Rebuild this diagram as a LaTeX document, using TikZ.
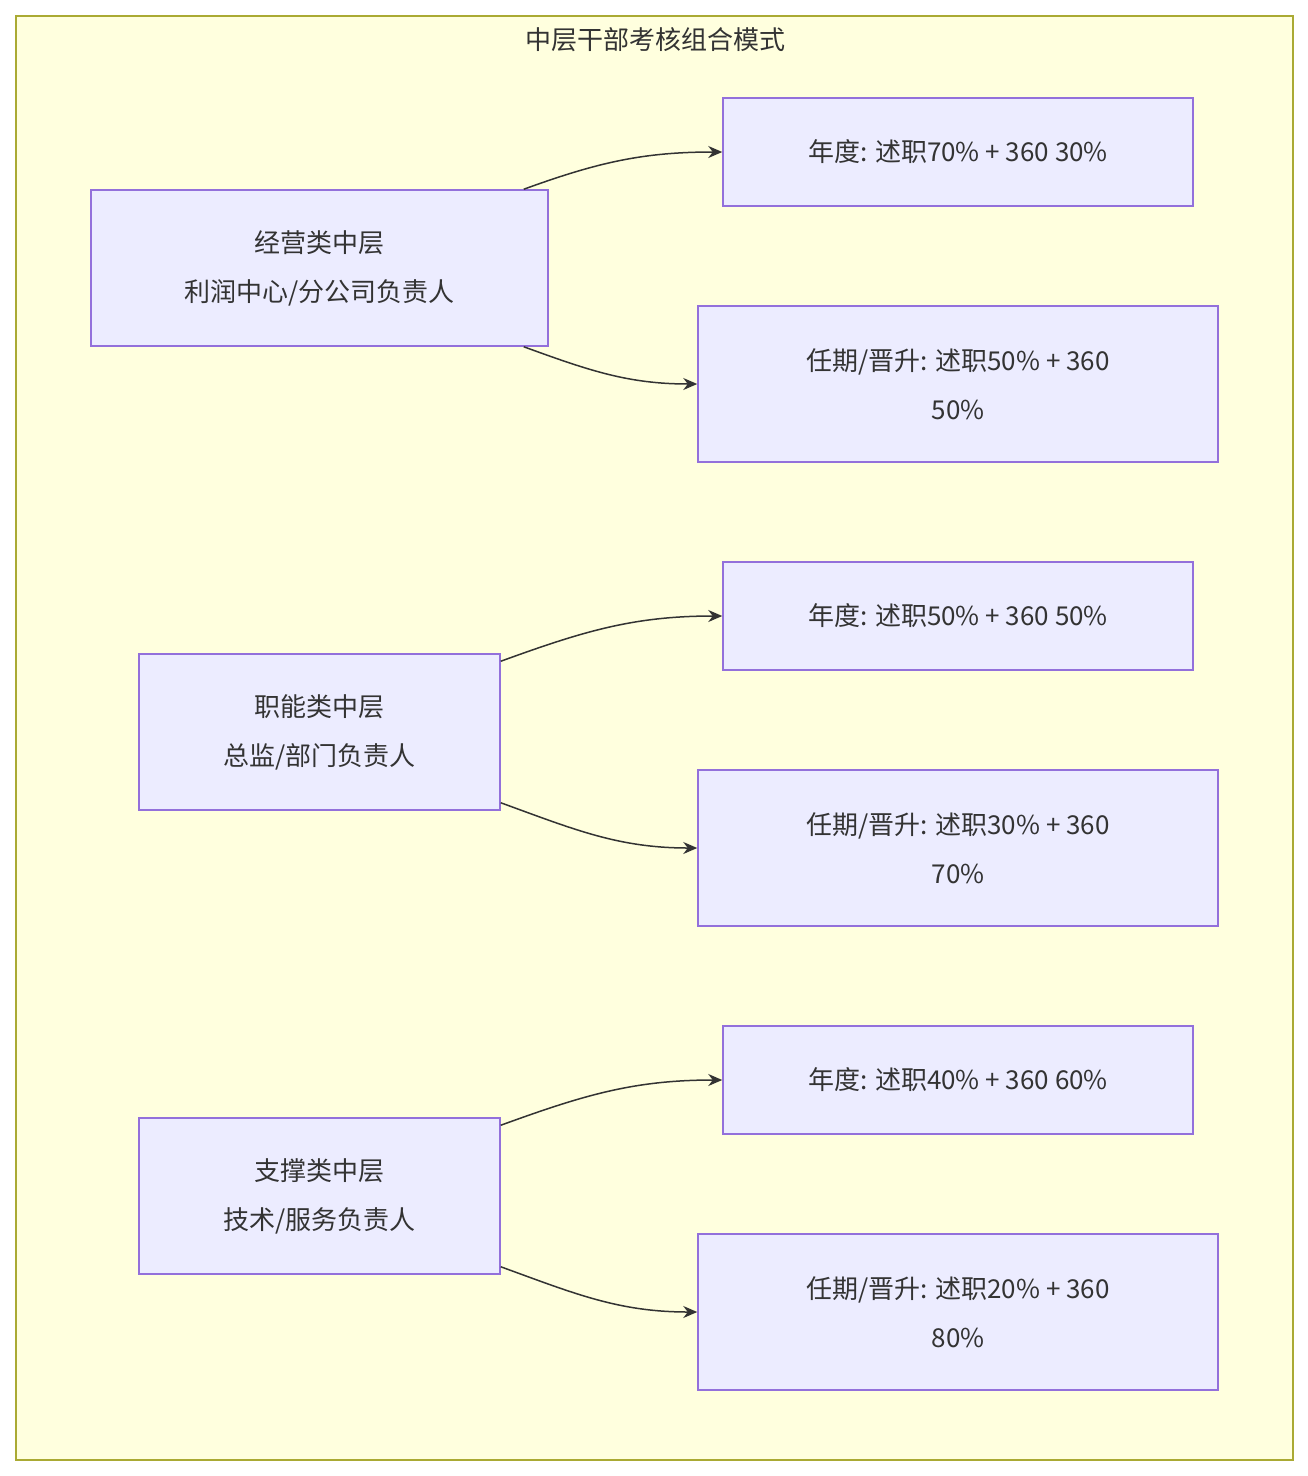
\documentclass[tikz,border=0pt]{standalone}
\usepackage{fontspec}
\setmainfont{Noto Sans CJK SC}
\usepackage{xcolor}
\usetikzlibrary{arrows,arrows.meta,shapes,backgrounds,fit}
\definecolor{boxfill}{HTML}{ECECFF}
\definecolor{boxline}{HTML}{9370DB}
\definecolor{grpfill}{HTML}{FFFFDE}
\definecolor{grpline}{HTML}{AAAA33}
\definecolor{txt}{HTML}{333333}
\begin{document}
\begin{tikzpicture}[x=1pt,y=-1pt]
      \tikzstyle{box}=[draw=boxline,fill=boxfill,line width=1.5pt,inner sep=0pt,align=center,
        text=txt,font=\fontsize{26}{49}\selectfont]
      \tikzstyle{link}=[draw=txt,line width=1.5pt,-{Stealth[length=14pt,width=12pt]}]

      \useasboundingbox (0,0) rectangle (1308,1476);
      \draw[fill=grpfill,draw=grpline,line width=1.5pt] (16,16) rectangle (1293,1460);
      \node (title) at (655,40) [text=txt,font=\fontsize{26}{30}\selectfont] {中层干部考核组合模式};

      % left column
      \node (jy) at (319.5,268) [box,minimum width=457,minimum height=156] {经营类中层\\利润中心/分公司负责人};
      \node (zn) at (319.5,732) [box,minimum width=361,minimum height=156] {职能类中层\\总监/部门负责人};
      \node (zc) at (319.5,1196) [box,minimum width=361,minimum height=156] {支撑类中层\\技术/服务负责人};

      % right column
      \node (jyA) at (958,152) [box,minimum width=470,minimum height=108] {年度: 述职70\% + 360 30\%};
      \node (jyB) at (958,384) [box,minimum width=520,minimum height=156] {任期/晋升: 述职50\% + 360\\50\%};
      \node (znA) at (958,616) [box,minimum width=470,minimum height=108] {年度: 述职50\% + 360 50\%};
      \node (znB) at (958,848) [box,minimum width=520,minimum height=156] {任期/晋升: 述职30\% + 360\\70\%};
      \node (zcA) at (958,1080) [box,minimum width=470,minimum height=108] {年度: 述职40\% + 360 60\%};
      \node (zcB) at (958,1312) [box,minimum width=520,minimum height=156] {任期/晋升: 述职20\% + 360\\80\%};

      \draw[link] ([xshift=-25pt]jy.north east) to[out=20,in=180] (jyA.west);
      \draw[link] ([xshift=-25pt]jy.south east) to[out=-20,in=180] (jyB.west);
      \draw[link] ([yshift=-8pt]zn.north east) to[out=20,in=180] (znA.west);
      \draw[link] ([yshift=8pt]zn.south east) to[out=-20,in=180] (znB.west);
      \draw[link] ([yshift=-8pt]zc.north east) to[out=20,in=180] (zcA.west);
      \draw[link] ([yshift=8pt]zc.south east) to[out=-20,in=180] (zcB.west);
\end{tikzpicture}
\end{document}
